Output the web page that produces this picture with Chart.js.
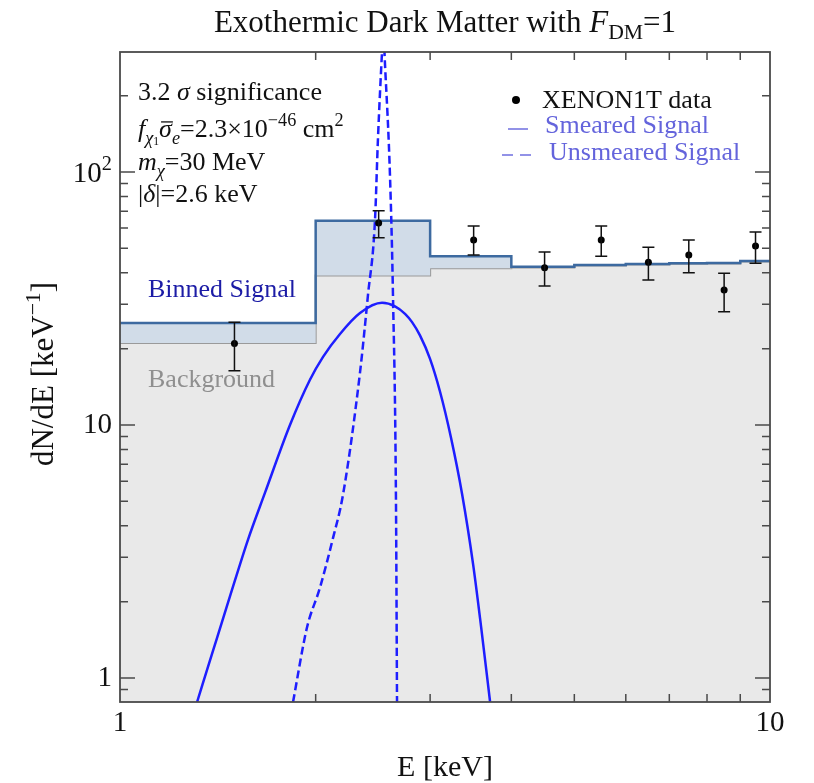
<!DOCTYPE html>
<html>
<head>
<meta charset="utf-8">
<script src="https://cdn.jsdelivr.net/npm/chart.js@4.4.1/dist/chart.umd.min.js"></script>
<style>
body { margin: 0; background: #fff; }
canvas { display: block; }
</style>
</head>
<body>
<canvas id="rate" width="814" height="783"></canvas>
<script>
// bin edges (keV); the last bin value is repeated to close the step
const binEdges = [1, 2, 3, 4, 5, 6, 7, 8, 9, 10];
const binnedSignal = [25.3, 64.2, 46.5, 42.2, 42.9, 43.3, 43.6, 43.7, 44.5];
const background = [21.1, 39.0, 41.6, 41.9, 42.7, 43.1, 43.4, 43.5, 44.3];

// XENON1T points with error bars
const dataE = [1.5, 2.5, 3.5, 4.5, 5.5, 6.5, 7.5, 8.5, 9.5];
const dataRate = [21.0, 62.9, 53.9, 41.8, 53.9, 44.0, 47.0, 34.2, 51.0];
const dataHi = [25.5, 70.3, 61.2, 48.3, 61.2, 50.4, 53.9, 39.8, 57.9];
const dataLo = [16.4, 55.0, 47.0, 35.4, 46.5, 37.4, 40.0, 28.0, 43.6];

// smeared signal
const smearE = [1.314, 1.390, 1.477, 1.573, 1.671, 1.826, 1.960, 2.053, 2.180, 2.340, 2.530,
  2.649, 2.745, 2.814, 2.894, 2.999, 3.108, 3.231, 3.359, 3.493, 3.593, 3.710];
const smearRate = [0.804, 1.28, 2.11, 3.51, 5.39, 10.0, 15.1, 18.6, 22.9, 27.7, 30.4,
  29.45, 27.5, 25.5, 22.6, 18.25, 13.5, 8.88, 5.35, 2.82, 1.60, 0.804];

// unsmeared signal
const unsmE = [1.846, 1.939, 2.03, 2.127, 2.203, 2.34, 2.407, 2.467, 2.494, 2.53, 2.541, 2.557, 2.603, 2.63, 2.658, 2.668];
const unsmRate = [0.804, 1.58, 2.27, 3.58, 5.29, 16.1, 32.6, 63.5, 136, 298, 360, 265, 94.7, 32.6, 5.06, 0.804];

// frame ticks
const xTicks = [2, 3, 4, 5, 6, 7, 8, 9];
const yMajor = [1, 10, 100];
const yMinor = [0.9, 2, 3, 4, 5, 6, 7, 8, 9, 20, 30, 40, 50, 60, 70, 80, 90, 200];

const SERIF = '"Liberation Serif", "DejaVu Serif", serif';
const BLUE = '#1e1eff';

const pts = (xs, ys) => xs.map((x, i) => ({ x: x, y: ys[Math.min(i, ys.length - 1)] }));

// text made of runs: [text, {i: italic, s: size factor, dy: shift in em, bar: overbar}]
function rich(ctx, runs, x, y, size, align, color) {
  const parts = runs.map(r => {
    const o = r[1] || {};
    const font = (o.i ? 'italic ' : '') + (size * (o.s || 1)) + 'px ' + SERIF;
    ctx.font = font;
    return { t: r[0], font: font, w: ctx.measureText(r[0]).width, dy: (o.dy || 0) * size, bar: o.bar };
  });
  const total = parts.reduce((a, p) => a + p.w, 0);
  let cx = align === 'center' ? x - total / 2 : align === 'right' ? x - total : x;
  ctx.fillStyle = color;
  ctx.strokeStyle = color;
  ctx.textAlign = 'left';
  ctx.textBaseline = 'alphabetic';
  parts.forEach(p => {
    ctx.font = p.font;
    ctx.fillText(p.t, cx, y + p.dy);
    if (p.bar) {
      ctx.lineWidth = 1.3;
      ctx.beginPath();
      ctx.moveTo(cx + 2, y - size * 0.58);
      ctx.lineTo(cx + p.w + 1, y - size * 0.58);
      ctx.stroke();
    }
    cx += p.w;
  });
}

const frame = {
  id: 'frame',
  afterDatasetsDraw(chart) {
    const ctx = chart.ctx;
    const xs = chart.scales.x, ys = chart.scales.y;
    const a = chart.chartArea;
    ctx.save();
    // error bars
    ctx.strokeStyle = '#111';
    ctx.lineWidth = 1.5;
    dataE.forEach((e, i) => {
      const px = xs.getPixelForValue(e);
      const top = ys.getPixelForValue(dataHi[i]);
      const bot = ys.getPixelForValue(dataLo[i]);
      ctx.beginPath();
      ctx.moveTo(px, top); ctx.lineTo(px, bot);
      ctx.moveTo(px - 6, top); ctx.lineTo(px + 6, top);
      ctx.moveTo(px - 6, bot); ctx.lineTo(px + 6, bot);
      ctx.stroke();
    });
    // frame and inward ticks
    ctx.strokeStyle = '#4a4a4a';
    ctx.lineWidth = 1.8;
    ctx.strokeRect(a.left, a.top, a.right - a.left, a.bottom - a.top);
    ctx.lineWidth = 1.5;
    ctx.beginPath();
    xTicks.forEach(v => {
      const px = xs.getPixelForValue(v);
      ctx.moveTo(px, a.bottom); ctx.lineTo(px, a.bottom - 8);
      ctx.moveTo(px, a.top); ctx.lineTo(px, a.top + 8);
    });
    yMajor.forEach(v => {
      const py = ys.getPixelForValue(v);
      ctx.moveTo(a.left, py); ctx.lineTo(a.left + 15, py);
      ctx.moveTo(a.right, py); ctx.lineTo(a.right - 15, py);
    });
    yMinor.forEach(v => {
      const py = ys.getPixelForValue(v);
      ctx.moveTo(a.left, py); ctx.lineTo(a.left + 8, py);
      ctx.moveTo(a.right, py); ctx.lineTo(a.right - 8, py);
    });
    ctx.stroke();

    // tick labels
    const tk = 29;
    rich(ctx, [['1']], xs.getPixelForValue(1), 731, tk, 'center', '#111');
    rich(ctx, [['10']], xs.getPixelForValue(10), 731, tk, 'center', '#111');
    rich(ctx, [['1']], 112, ys.getPixelForValue(1) + 8, tk, 'right', '#111');
    rich(ctx, [['10']], 112, ys.getPixelForValue(10) + 8, tk, 'right', '#111');
    rich(ctx, [['10'], ['2', { s: 0.7, dy: -0.42 }]], 112, ys.getPixelForValue(100) + 10, tk, 'right', '#111');

    // axis titles
    rich(ctx, [['E [keV]']], (a.left + a.right) / 2, 776, 30, 'center', '#111');
    ctx.save();
    ctx.translate(53, 374);
    ctx.rotate(-Math.PI / 2);
    rich(ctx, [['dN/dE [keV'], ['\u22121', { s: 0.7, dy: -0.42 }], [']']], 0, 0, 31, 'center', '#111');
    ctx.restore();

    // title
    rich(ctx, [['Exothermic Dark Matter with '], ['F', { i: 1 }], ['DM', { s: 0.7, dy: 0.22 }], ['=1']],
      (a.left + a.right) / 2, 32, 31, 'center', '#111');

    // model parameters
    const fs = 26;
    rich(ctx, [['3.2 '], ['\u03c3', { i: 1 }], [' significance']], 138, 100, fs, 'left', '#111');
    rich(ctx, [['f', { i: 1 }], ['\u03c7', { i: 1, s: 0.7, dy: 0.25 }], ['1', { s: 0.45, dy: 0.32 }],
      ['\u03c3', { i: 1, bar: 1 }], ['e', { i: 1, s: 0.7, dy: 0.25 }], ['=2.3\u00d710'],
      ['\u221246', { s: 0.7, dy: -0.42 }], [' cm'], ['2', { s: 0.7, dy: -0.42 }]], 138, 137, fs, 'left', '#111');
    rich(ctx, [['m', { i: 1 }], ['\u03c7', { i: 1, s: 0.7, dy: 0.25 }], ['=30 MeV']], 138, 170, fs, 'left', '#111');
    rich(ctx, [['|'], ['\u03b4', { i: 1 }], ['|=2.6 keV']], 138, 202, fs, 'left', '#111');

    // curve labels
    rich(ctx, [['Binned Signal']], 148, 297, fs, 'left', '#1c1ca6');
    rich(ctx, [['Background']], 148, 387, fs, 'left', '#8f8f8f');

    // legend
    ctx.fillStyle = '#000';
    ctx.beginPath();
    ctx.arc(516, 100, 4, 0, Math.PI * 2);
    ctx.fill();
    rich(ctx, [['XENON1T data']], 542, 108, fs, 'left', '#111');
    ctx.strokeStyle = '#6f6fe0';
    ctx.lineWidth = 1.5;
    ctx.beginPath();
    ctx.moveTo(508, 129); ctx.lineTo(528, 129);
    ctx.moveTo(502, 155); ctx.lineTo(513, 155);
    ctx.moveTo(520, 155); ctx.lineTo(531, 155);
    ctx.stroke();
    rich(ctx, [['Smeared Signal']], 545, 133, fs, 'left', '#6464dc');
    rich(ctx, [['Unsmeared Signal']], 549, 160, fs, 'left', '#6464dc');
    ctx.restore();
  }
};

new Chart(document.getElementById('rate'), {
  type: 'line',
  data: {
    datasets: [
      {
        label: 'XENON1T data',
        data: pts(dataE, dataRate),
        showLine: false,
        pointRadius: 3.5,
        pointBackgroundColor: '#000',
        pointBorderWidth: 0
      },
      {
        label: 'Unsmeared Signal',
        data: pts(unsmE, unsmRate),
        borderColor: BLUE,
        borderWidth: 2.5,
        borderDash: [8, 4],
        pointRadius: 0,
        cubicInterpolationMode: 'monotone',
        fill: false
      },
      {
        label: 'Smeared Signal',
        data: pts(smearE, smearRate),
        borderColor: BLUE,
        borderWidth: 2.5,
        pointRadius: 0,
        cubicInterpolationMode: 'monotone',
        fill: false
      },
      {
        label: 'Binned Signal',
        data: pts(binEdges, binnedSignal),
        stepped: 'before',
        borderColor: '#3d6aa0',
        borderWidth: 2.5,
        backgroundColor: '#d1dce8',
        fill: '+1',
        pointRadius: 0
      },
      {
        label: 'Background',
        data: pts(binEdges, background),
        stepped: 'before',
        borderColor: '#9a9a9a',
        borderWidth: 2,
        backgroundColor: '#e9e9e9',
        fill: 'start',
        pointRadius: 0
      }
    ]
  },
  options: {
    responsive: false,
    animation: false,
    layout: { padding: { left: 120, right: 44, top: 52, bottom: 81 } },
    scales: {
      x: { type: 'logarithmic', min: 1, max: 10, display: false },
      y: { type: 'logarithmic', min: 0.804, max: 298, display: false }
    },
    plugins: { legend: { display: false }, tooltip: { enabled: false } }
  },
  plugins: [frame]
});
</script>
</body>
</html>
